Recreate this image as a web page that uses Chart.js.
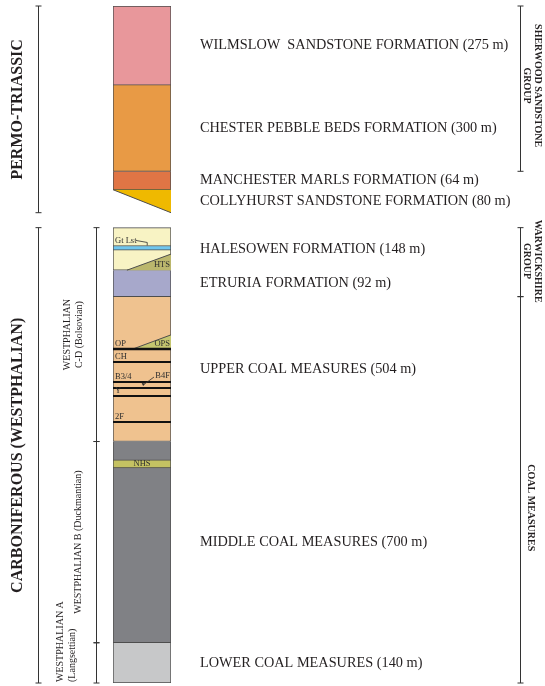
<!DOCTYPE html>
<html>
<head>
<meta charset="utf-8">
<script src="https://cdn.jsdelivr.net/npm/chart.js@4.4.1/dist/chart.umd.min.js"></script>
<style>
  html, body { margin: 0; padding: 0; background: #ffffff; }
  #wrap { width: 545px; height: 686px; position: relative; }
</style>
</head>
<body>
<div id="wrap"><canvas id="column"></canvas></div>
<script>
// ---- Lithostratigraphic units, top to bottom (thickness in metres) ----
const unitNames = [
  'WILMSLOW  SANDSTONE FORMATION',
  'CHESTER PEBBLE BEDS FORMATION',
  'MANCHESTER MARLS FORMATION',
  'COLLYHURST SANDSTONE FORMATION',
  'HALESOWEN FORMATION',
  'ETRURIA FORMATION',
  'UPPER COAL MEASURES',
  'MIDDLE COAL MEASURES',
  'LOWER COAL MEASURES'
];
const unitThickness = [275, 300, 64, 80, 148, 92, 504, 700, 140];
const unitColours = ['#e8979b', '#e89a45', '#e07545', '#efb900', '#f8f3c4', '#a7a8cb', '#efc28f', '#808185', '#c7c8c9'];
// units that pinch out sideways (drawn as a wedge instead of a full-width block)
const unitIsWedge = [false, false, false, true, false, false, false, false, false];

// break drawn between the Permo-Triassic and the Carboniferous (unconformity)
const breakAfterUnit = 3;
const breakGap = 52;

// ---- Marker beds (depths in metres below top of column) ----
const bandNames = ['Gt Lst', 'NHS'];
const bandTops = [833, 1579];
const bandBases = [849, 1607];
const bandColours = ['#6fc6ee', '#c5c262'];

// ---- Sandstone wedges inside formations ----
const wedgeNames = ['HTS', 'OPS'];
const wedgePinchOut = [0.24, 0.345];   // fraction of column width where the sandstone dies out
const wedgeBaseDepth = [919, 1193];
const wedgeTopDepth = [863, 1144];
const wedgeColours = ['#bbb76d', '#c5c66f'];

// ---- Coal seams ----
const seamNames = ['OP', 'CH', 'B3/4', 'B4F', 'Y', '2F'];
const seamDepths = [1193, 1238, 1308, 1329, 1357, 1447];

// ---- Chronostratigraphy and groups (index ranges of units) ----
const periodNames = [['PERMO-TRIASSIC'], ['CARBONIFEROUS (WESTPHALIAN)']];
const periodFirst = [0, 4];
const periodLast = [3, 8];
const stageNames = [['WESTPHALIAN', 'C-D (Bolsovian)'], ['WESTPHALIAN B (Duckmantian)'], ['WESTPHALIAN A', '(Langsettian)']];
const stageFirst = [4, 7, 8];
const stageLast = [6, 7, 8];
const groupNames = [['SHERWOOD SANDSTONE', 'GROUP'], ['WARWICKSHIRE', 'GROUP'], ['COAL MEASURES']];
const groupFirst = [0, 4, 6];
const groupLast = [1, 5, 8];

// ---- derived depths ----
const unitTops = [];
const unitBases = [];
let depth = 0;
unitThickness.forEach((t, i) => {
  unitTops.push(depth);
  depth += t;
  unitBases.push(depth);
  if (i === breakAfterUnit) depth += breakGap;
});
const columnBase = depth;
const unitMids = unitTops.map((t, i) => (t + unitBases[i]) / 2);

// ---- styles ----
const SERIF = '"Liberation Serif", "Times New Roman", Times, serif';
const INK = '#231f20';
const EDGE = '#4d4d4d';

// ---- datasets ----
const datasets = [];

// coal seams: thin black lines across the column
seamDepths.forEach((d, i) => {
  datasets.push({
    type: 'line', label: seamNames[i], xAxisID: 'xl', yAxisID: 'y',
    data: [{ x: 0, y: d }, { x: 1, y: d }],
    borderColor: '#111111', borderWidth: i === 0 ? 2.6 : 2,
    pointRadius: 0, fill: false, order: 0
  });
});

// wedges: a sloping line filled back to the horizontal it starts from
function wedge(label, x0, startDepth, endDepth, colour) {
  return {
    type: 'line', label, xAxisID: 'xl', yAxisID: 'y',
    data: [{ x: x0, y: startDepth }, { x: 1, y: endDepth }],
    borderColor: EDGE, borderWidth: 1, backgroundColor: colour,
    fill: { value: startDepth }, pointRadius: 0, order: 1
  };
}
wedgeNames.forEach((n, i) => {
  datasets.push(wedge(n, wedgePinchOut[i], wedgeBaseDepth[i], wedgeTopDepth[i], wedgeColours[i]));
});
unitNames.forEach((n, i) => {
  if (unitIsWedge[i]) datasets.push(wedge(n, 0, unitTops[i], unitBases[i], unitColours[i]));
});

// marker beds
bandNames.forEach((n, i) => {
  datasets.push({
    type: 'bar', label: n, xAxisID: 'x', yAxisID: 'y',
    data: [[bandTops[i], bandBases[i]]],
    backgroundColor: bandColours[i], borderColor: EDGE, borderWidth: 1,
    borderSkipped: false, grouped: false, barPercentage: 1, categoryPercentage: 1, order: 2
  });
});

// formations
unitNames.forEach((n, i) => {
  if (unitIsWedge[i]) return;
  const firstOfSection = i === 0 || i === breakAfterUnit + 1;
  datasets.push({
    type: 'bar', label: n, xAxisID: 'x', yAxisID: 'y',
    data: [[unitTops[i], unitBases[i]]],
    backgroundColor: unitColours[i], borderColor: EDGE, borderWidth: 1,
    borderSkipped: firstOfSection ? false : 'start',
    grouped: false, barPercentage: 1, categoryPercentage: 1, order: 3
  });
});

// ---- annotation plugin: column labels, brackets and rotated headings ----
function rotatedLines(ctx, lines, xs, yc, angle, font, align) {
  ctx.save();
  ctx.font = font;
  ctx.fillStyle = INK;
  lines.forEach((line, k) => {
    ctx.save();
    ctx.translate(xs[k], yc);
    ctx.rotate(angle);
    ctx.textAlign = align || 'center';
    ctx.textBaseline = 'middle';
    ctx.fillText(line, 0, 0);
    ctx.restore();
  });
  ctx.restore();
}
function bracket(ctx, x, y0, y1) {
  ctx.beginPath();
  ctx.moveTo(x, y0); ctx.lineTo(x, y1);
  ctx.moveTo(x - 3, y0); ctx.lineTo(x + 3, y0);
  ctx.moveTo(x - 3, y1); ctx.lineTo(x + 3, y1);
  ctx.stroke();
}

const annotate = {
  id: 'annotate',
  afterDatasetsDraw(chart) {
    const ctx = chart.ctx;
    const y = chart.scales.y;
    const { left, right } = chart.chartArea;
    const px = v => y.getPixelForValue(v);
    const w = right - left;

    ctx.save();
    // labels inside the column
    ctx.font = '8.5px ' + SERIF;
    ctx.fillStyle = '#2e2e2e';
    ctx.textBaseline = 'middle';
    ctx.strokeStyle = '#2e2e2e';
    ctx.lineWidth = 0.8;

    // Gt Lst with leader
    const gtY = px(bandTops[0]) - 5;
    ctx.textAlign = 'left';
    ctx.fillText(bandNames[0], left + 2, gtY);
    ctx.beginPath();
    ctx.moveTo(left + 23, gtY);
    ctx.lineTo(left + w * 0.59, gtY + 2);
    ctx.lineTo(left + w * 0.59, px(bandTops[0]));
    ctx.stroke();

    // NHS centred in its band
    ctx.textAlign = 'center';
    ctx.fillText(bandNames[1], (left + right) / 2, (px(bandTops[1]) + px(bandBases[1])) / 2);

    // wedge names
    ctx.textAlign = 'right';
    wedgeNames.forEach((n, i) => ctx.fillText(n, right - 1, px(wedgeBaseDepth[i]) - 5));

    // seam names
    seamNames.forEach((n, i) => {
      if (n === 'B4F') {
        const ly = px(seamDepths[i - 1]) - 6;
        ctx.textAlign = 'right';
        ctx.fillText(n, right - 1, ly);
        const tipX = left + w * 0.52, tipY = px(seamDepths[i]) - 3;
        ctx.beginPath();
        ctx.moveTo(right - 17, ly + 1);
        ctx.lineTo(tipX, tipY);
        ctx.stroke();
        ctx.beginPath();
        ctx.moveTo(tipX, tipY + 1);
        ctx.lineTo(tipX - 1.5, tipY - 2);
        ctx.lineTo(tipX + 1.8, tipY - 1.5);
        ctx.closePath();
        ctx.fill();
      } else {
        ctx.textAlign = 'left';
        ctx.fillText(n, left + 2, px(seamDepths[i]) - 5);
      }
    });

    // brackets
    ctx.strokeStyle = '#333333';
    ctx.lineWidth = 1;
    periodNames.forEach((lines, i) => {
      const y0 = px(unitTops[periodFirst[i]]), y1 = px(unitBases[periodLast[i]]);
      bracket(ctx, 38.5, y0, y1);
      rotatedLines(ctx, lines, [18], (y0 + y1) / 2, -Math.PI / 2, 'bold 16px ' + SERIF);
    });
    const stageX = [[67, 79], [78], [60, 72]];
    stageNames.forEach((lines, i) => {
      const y0 = px(unitTops[stageFirst[i]]), y1 = px(unitBases[stageLast[i]]);
      bracket(ctx, 96.5, y0, y1);
      if (lines.length === 2 && y1 - y0 < 80) {
        rotatedLines(ctx, lines, stageX[i], y1 - 1, -Math.PI / 2, '10px ' + SERIF, 'left');
      } else {
        rotatedLines(ctx, lines, stageX[i], (y0 + y1) / 2, -Math.PI / 2, '10px ' + SERIF);
      }
    });
    const groupX = [[538, 527], [538, 527], [531]];
    const groupShift = [-3, -1, 18];
    groupNames.forEach((lines, i) => {
      const y0 = px(unitTops[groupFirst[i]]), y1 = px(unitBases[groupLast[i]]);
      bracket(ctx, 520.5, y0, y1);
      rotatedLines(ctx, lines, groupX[i], (y0 + y1) / 2 + groupShift[i], Math.PI / 2, 'bold 10px ' + SERIF);
    });
    ctx.restore();
  }
};

new Chart(document.getElementById('column'), {
  type: 'bar',
  data: { labels: ['column'], datasets },
  options: {
    responsive: true,
    maintainAspectRatio: false,
    animation: false,
    layout: { padding: { left: 113, right: 0, top: 6, bottom: 3 } },
    plugins: { legend: { display: false }, tooltip: { enabled: false } },
    scales: {
      x: { type: 'category', display: false, offset: true },
      xl: { type: 'linear', display: false, min: 0, max: 1, offset: false, grid: { offset: false } },
      y: { type: 'linear', display: false, reverse: true, min: 0, max: columnBase },
      yr: {
        type: 'linear', position: 'right', reverse: true, min: 0, max: columnBase,
        grid: { display: false, drawTicks: false },
        border: { display: false },
        ticks: {
          autoSkip: false, padding: 29, color: INK,
          font: { family: SERIF, size: 14.3 },
          callback: (v, i) => unitNames[i] + ' (' + unitThickness[i] + ' m)'
        },
        afterBuildTicks: s => { s.ticks = unitMids.map(v => ({ value: v })); },
        afterFit: s => { s.width = 374; s.paddingTop = 0; s.paddingBottom = 0; }
      }
    }
  },
  plugins: [annotate]
});
</script>
</body>
</html>
